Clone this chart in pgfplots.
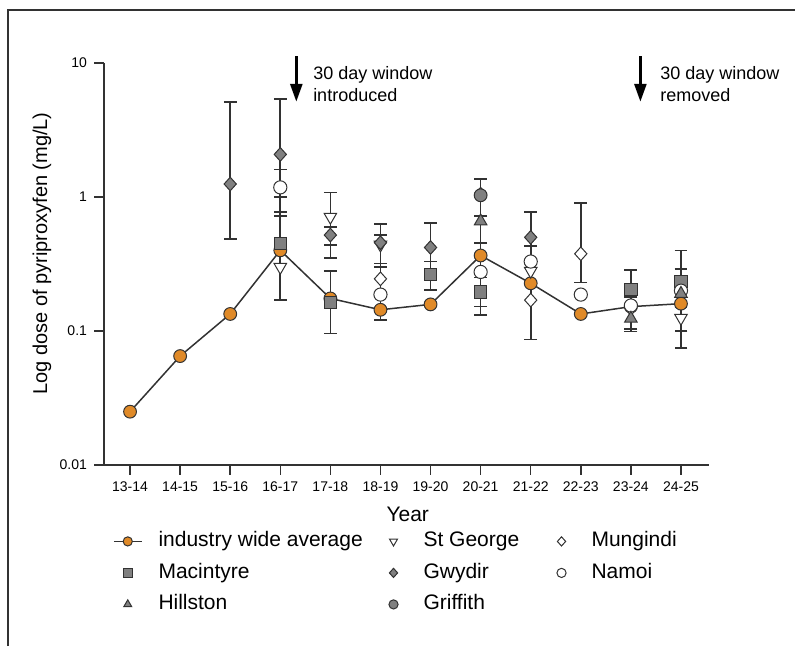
\documentclass[border=0pt]{standalone}
\usepackage{pgfplots}
\pgfplotsset{compat=1.18}
\usetikzlibrary{arrows.meta}
\usepackage{fontspec}
\setmainfont{Liberation Sans}
\definecolor{avgor}{RGB}{224,138,40}
\definecolor{mgray}{RGB}{128,128,128}
\definecolor{edge}{RGB}{50,50,50}
\begin{document}
\begin{tikzpicture}
\path[use as bounding box] (0pt,0pt) rectangle (397.5pt,323pt);
\draw[edge, line width=0.8pt] (4pt,0pt) -- (4pt,318pt) -- (397.5pt,318pt);
\begin{axis}[
  at={(52pt,90.5pt)}, anchor=south west,
  scale only axis, width=302.5pt, height=201pt,
  ymode=log, ymin=0.01, ymax=10,
  xmin=-0.52, xmax=11.56,
  axis lines=left,
  axis line style={edge, line width=0.75pt, -},
  xtick={0,...,11},
  xticklabels={13-14,14-15,15-16,16-17,17-18,18-19,19-20,20-21,21-22,22-23,23-24,24-25},
  ytick={0.01,0.1,1,10}, yticklabels={0.01,0.1,1,10},
  yminorticks=false,
  tick align=outside, major tick length=5pt,
  tick style={edge, line width=0.75pt},
  ticklabel style={font=\fontsize{7}{8}\selectfont},
  xlabel={Year}, ylabel={Log dose of pyriproxyfen (mg/L)},
  xlabel style={font=\fontsize{10.5}{12}\selectfont, at={(axis description cs:0.502,-0.122)}, anchor=center},
  ylabel style={font=\fontsize{10}{12}\selectfont, at={(axis description cs:-0.1025,0.526)}, anchor=center},
  clip=false,
  legend columns=3,
  legend cell align=left,
  legend style={draw=none, fill=none, inner sep=0pt, outer sep=0pt,
    at={(axis description cs:0.0149,-0.1657)}, anchor=north west,
    font=\fontsize{10.5}{12}\selectfont,
    nodes={inner sep=0pt, text height=7.5pt, text depth=2.3pt},
    cells={anchor=west},
    row sep=5.95pt,
    /tikz/every odd column/.append style={column sep=8pt}},
  legend image code/.code={\path[draw=none, fill=none] (0pt,-2pt) rectangle (14pt,2pt);
    \draw[mark repeat=2,mark phase=2,#1] plot coordinates {(0pt,0pt) (7pt,0pt) (14pt,0pt)};},
  legend image post style={mark size=2.3pt},
  error bars/error bar style={edge, line width=0.8pt},
  error bars/error mark options={rotate=90, edge, line width=0.8pt, mark size=3.2pt},
]
% industry wide average
\addplot[color=edge, line width=0.75pt, mark=*, mark size=3.2pt, mark options={fill=avgor, draw=edge, line width=0.5pt}]
 coordinates {(0,0.025) (1,0.065) (2,0.134) (3,0.40) (4,0.175) (5,0.144) (6,0.158) (7,0.366) (8,0.227) (9,0.134) (10,0.152) (11,0.16)};
\addlegendentry{\makebox[110.5pt][l]{industry wide average}}
% St George
\addplot[only marks, mark=triangle*, mark size=3.6pt, mark options={rotate=180, fill=white, draw=edge, line width=0.5pt},
  error bars/.cd, y dir=both, y explicit]
 coordinates {(3,0.30) += (0,0.10) -= (0,0.13)
  (4,0.71) += (0,0.37) -= (0,0.36)
  (5,0.44) += (0,0.08) -= (0,0.14)
  (8,0.28) += (0,0.15) -= (0,0.1935)
  (10,0.145) += (0,0.035) -= (0,0.041)
  (11,0.125) += (0,0.025) -= (0,0.025)};
\addlegendentry{\makebox[62pt][l]{St George}}
% Mungindi
\addplot[only marks, mark=diamond*, mark size=3.4pt, mark options={xscale=1.2, fill=white, draw=edge, line width=0.5pt},
  error bars/.cd, y dir=both, y explicit]
 coordinates {(9,0.377) += (0,0.523) -= (0,0.147)};
\addlegendentry{Mungindi}
\addplot[only marks, forget plot, mark=diamond*, mark size=3.4pt, mark options={xscale=1.2, fill=white, draw=edge, line width=0.5pt}]
 coordinates {(5,0.245) (8,0.17) (11,0.21)};
% Macintyre
\addplot[only marks, mark=square*, mark size=3.1pt, mark options={fill=mgray, draw=edge, line width=0.5pt},
  error bars/.cd, y dir=both, y explicit]
 coordinates {(3,0.45) += (0,0.55) -= (0,0.28)
  (4,0.164) += (0,0.116) -= (0,0.068)
  (6,0.264) += (0,0.066) -= (0,0.061)
  (7,0.195) += (0,0.055) -= (0,0.063)
  (10,0.205) += (0,0.079) -= (0,0.025)
  (11,0.235) += (0,0.055) -= (0,0.075)};
\addlegendentry{\makebox[110.5pt][l]{Macintyre}}
% Gwydir
\addplot[only marks, mark=diamond*, mark size=3.4pt, mark options={xscale=1.2, fill=mgray, draw=edge, line width=0.5pt},
  error bars/.cd, y dir=both, y explicit]
 coordinates {(2,1.25) += (0,3.85) -= (0,0.764)
  (3,2.08) += (0,3.28) -= (0,1.31)
  (4,0.52) += (0,0.08) -= (0,0.08)
  (5,0.456) += (0,0.174) -= (0,0.136)
  (6,0.42) += (0,0.22) -= (0,0.09)
  (7,1.05) += (0,0.31) -= (0,0.33)
  (8,0.50) += (0,0.27) -= (0,0.07)};
\addlegendentry{\makebox[62pt][l]{Gwydir}}
% Namoi
\addplot[only marks, mark=*, mark size=3.3pt, mark options={fill=white, draw=edge, line width=0.5pt},
  error bars/.cd, y dir=both, y explicit]
 coordinates {(3,1.18) += (0,0.42) -= (0,0.46)
  (5,0.187) += (0,0.113) -= (0,0.066)
  (7,0.276) += (0,0.18) -= (0,0.124)
  (11,0.20) += (0,0.20) -= (0,0.125)};
\addlegendentry{Namoi}
\addplot[only marks, forget plot, mark=*, mark size=3.3pt, mark options={fill=white, draw=edge, line width=0.5pt}]
 coordinates {(8,0.33) (9,0.187) (10,0.155)};
% Hillston
\addplot[only marks, mark=triangle*, mark size=3.6pt, mark options={fill=mgray, draw=edge, line width=0.5pt},
  error bars/.cd, y dir=both, y explicit]
 coordinates {(7,0.66) += (0,0.06) -= (0,0.204)
  (10,0.124) += (0,0.026) -= (0,0.025)};
\addlegendentry{\makebox[110.5pt][l]{Hillston}}
\addplot[only marks, forget plot, mark=triangle*, mark size=3.6pt, mark options={fill=mgray, draw=edge, line width=0.5pt}]
 coordinates {(11,0.19)};
% Griffith
\addplot[only marks, mark=*, mark size=3.2pt, mark options={fill=mgray, draw=edge, line width=0.5pt}]
 coordinates {(7,1.03)};
\addlegendentry{\makebox[62pt][l]{Griffith}}
% annotations
\draw[black, line width=1.7pt, -{Triangle[width=5.8pt,length=9pt]}] (axis cs:3.32,11.2) -- (axis cs:3.32,5.12);
\node[anchor=west, align=left, inner sep=0pt, font=\fontsize{9}{11}\selectfont] at (axis cs:3.65,6.98) {30 day window\\introduced};
\draw[black, line width=1.7pt, -{Triangle[width=5.8pt,length=9pt]}] (axis cs:10.19,11.2) -- (axis cs:10.19,5.12);
\node[anchor=west, align=left, inner sep=0pt, font=\fontsize{9}{11}\selectfont] at (axis cs:10.58,6.98) {30 day window\\removed};
\end{axis}
\end{tikzpicture}
\end{document}
